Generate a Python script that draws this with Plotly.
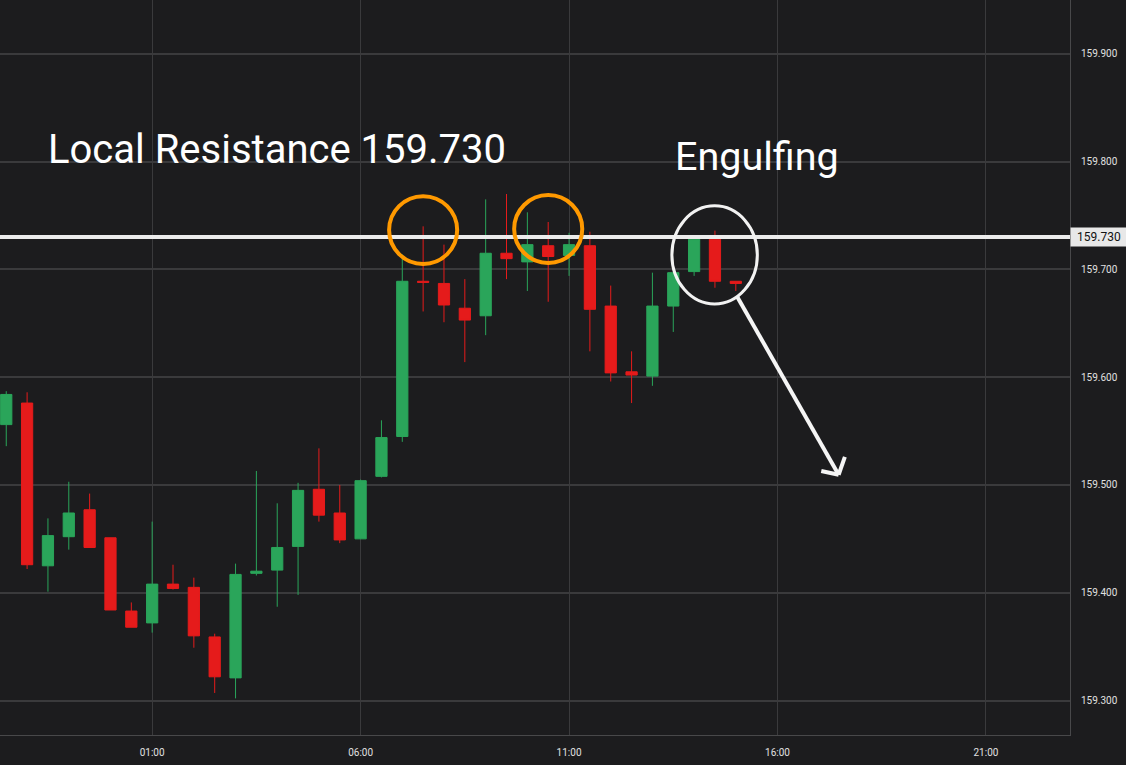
import pandas as pd
import plotly.graph_objects as go

# 30-minute candles, first one at 21:30 the day before
times = pd.date_range("2024-07-09 21:30", periods=36, freq="30min")

opens = [159.556, 159.576, 159.425, 159.452, 159.477, 159.451, 159.383, 159.372, 159.408,
         159.405, 159.359, 159.321, 159.418, 159.421, 159.443, 159.496, 159.474, 159.450,
         159.508, 159.545, 159.689, 159.687, 159.664, 159.657, 159.715, 159.707, 159.722,
         159.713, 159.722, 159.666, 159.605, 159.601, 159.666, 159.698, 159.728, 159.689]
highs = [159.587, 159.586, 159.469, 159.503, 159.492, 159.451, 159.391, 159.466, 159.426,
         159.414, 159.362, 159.427, 159.513, 159.483, 159.502, 159.534, 159.500, 159.505,
         159.560, 159.714, 159.740, 159.723, 159.691, 159.765, 159.770, 159.753, 159.744,
         159.734, 159.735, 159.685, 159.624, 159.697, 159.697, 159.730, 159.736, 159.689]
lows = [159.536, 159.422, 159.401, 159.440, 159.442, 159.384, 159.368, 159.363, 159.403,
        159.349, 159.307, 159.302, 159.416, 159.387, 159.398, 159.466, 159.446, 159.450,
        159.507, 159.540, 159.661, 159.651, 159.614, 159.639, 159.691, 159.680, 159.670,
        159.694, 159.624, 159.596, 159.576, 159.592, 159.642, 159.694, 159.683, 159.680]
closes = [159.584, 159.426, 159.453, 159.474, 159.442, 159.384, 159.368, 159.408, 159.404,
          159.360, 159.322, 159.417, 159.420, 159.442, 159.495, 159.472, 159.449, 159.504,
          159.544, 159.689, 159.688, 159.667, 159.653, 159.715, 159.710, 159.723, 159.712,
          159.723, 159.663, 159.604, 159.602, 159.666, 159.697, 159.728, 159.689, 159.687]

resistance = 159.730

BG = "#1c1c1e"
GRID = "#3a3a3c"
GREEN = "#2aa55a"
RED = "#e51b1b"

fig = go.Figure(go.Candlestick(
    x=times, open=opens, high=highs, low=lows, close=closes,
    increasing=dict(line=dict(color=GREEN, width=1), fillcolor=GREEN),
    decreasing=dict(line=dict(color=RED, width=1), fillcolor=RED),
    showlegend=False,
))

# resistance line
fig.add_shape(type="line", xref="paper", x0=0, x1=1, y0=resistance, y1=resistance,
              line=dict(color="#ececec", width=4))

# circles round the two tests and the engulfing pair
orange = dict(color="#ff9900", width=4)
fig.add_shape(type="circle", x0="2024-07-10 06:41", x1="2024-07-10 08:19",
              y0=159.705, y1=159.768, line=orange)
fig.add_shape(type="circle", x0="2024-07-10 09:41", x1="2024-07-10 11:19",
              y0=159.706, y1=159.769, line=orange)
fig.add_shape(type="circle", x0="2024-07-10 13:28", x1="2024-07-10 15:31",
              y0=159.668, y1=159.759, line=dict(color="#f2f2f2", width=3))

# arrow down
arrow = dict(color="#f5f5f5", width=4)
fig.add_shape(type="line", x0="2024-07-10 15:02", y0=159.6746,
              x1="2024-07-10 17:28", y1=159.5095, line=arrow)
fig.add_shape(type="line", x0="2024-07-10 17:03", y0=159.513,
              x1="2024-07-10 17:28", y1=159.5095, line=arrow)
fig.add_shape(type="line", x0="2024-07-10 17:37", y0=159.526,
              x1="2024-07-10 17:28", y1=159.5095, line=arrow)

fig.add_annotation(x="2024-07-09 22:27", y=159.8115, text="Local Resistance 159.730",
                   showarrow=False, xanchor="left", yanchor="middle",
                   font=dict(family="Roboto", size=40, color="#ffffff"))
fig.add_annotation(x="2024-07-10 13:29", y=159.805, text="Engulfing",
                   showarrow=False, xanchor="left", yanchor="middle",
                   font=dict(family="Roboto", size=39.5, color="#ffffff"))

# price tag on the axis
fig.add_annotation(xref="paper", x=1, y=resistance, text="159.730", showarrow=False,
                   xanchor="left", yanchor="middle", bgcolor="#e8e8e8", width=52,
                   borderpad=2, font=dict(family="Roboto", size=12, color="#111111"))

fig.update_layout(
    width=1126, height=765,
    margin=dict(l=0, r=56, t=0, b=30),
    paper_bgcolor=BG, plot_bgcolor=BG,
    boxgap=0.23,
    font=dict(family="Roboto", size=10, color="#e0e0e0"),
    hovermode=False,
)
fig.update_xaxes(
    range=["2024-07-09 21:21", "2024-07-10 23:01"],
    rangeslider=dict(visible=False),
    tick0="2024-07-10 01:00", dtick=5 * 3600 * 1000, tickformat="%H:%M",
    showgrid=True, gridcolor=GRID, gridwidth=1,
    showline=True, linecolor="#48484a", linewidth=1,
    ticks="", ticklabelstandoff=8,
)
fig.update_yaxes(
    side="right", range=[159.268, 159.950], dtick=0.1, tick0=159.3, tickformat=".3f",
    showgrid=True, gridcolor=GRID, gridwidth=2,
    showline=True, linecolor="#48484a", linewidth=1,
    ticks="", ticklabelstandoff=8, zeroline=False,
)

# page body has a default 8px margin; drop it so the chart sits at the window corner
fig.write_html("out.html", config={"displayModeBar": False},
               post_script="document.body.style.margin='0';")
